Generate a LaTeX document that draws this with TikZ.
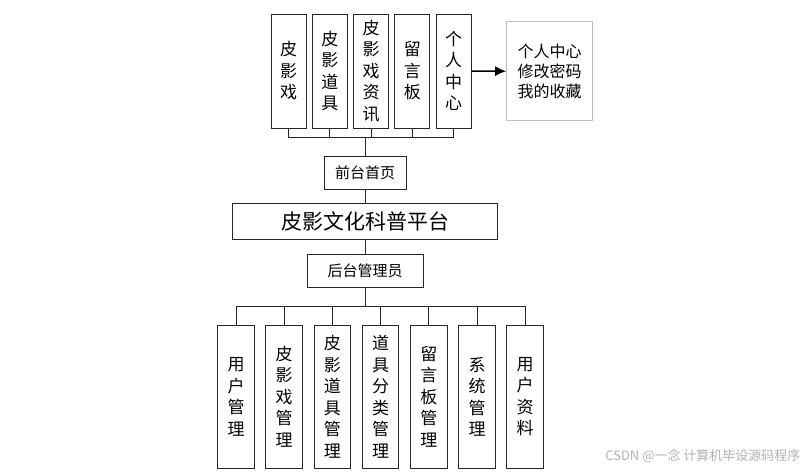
\documentclass[tikz,border=0pt]{standalone}
\usepackage{fontspec}
\newfontfamily\cjk{Noto Sans CJK SC}
\usepackage{xcolor}
\usepackage{tikz}
\usetikzlibrary{positioning, arrows.meta}
\tikzstyle{colbox} = [rectangle, 
minimum width=35pt, 
minimum height=114pt, 
inner sep=0pt,
align=center, 
draw=black!85, 
line width=1pt,
font=\cjk\fontsize{17}{21.5}\selectfont]
\tikzstyle{modbox} = [colbox, 
minimum width=36.5pt, 
minimum height=143pt]
\tikzstyle{page} = [rectangle, 
minimum height=33pt, 
text centered, 
draw=black!85, 
line width=1pt,
font=\cjk\fontsize{15}{18}\selectfont]
\tikzstyle{title} = [rectangle, 
minimum width=265pt, 
minimum height=36pt, 
text centered, 
draw=black!85, 
line width=1pt,
font=\cjk\fontsize{21}{24}\selectfont]
\tikzstyle{info} = [rectangle, 
minimum width=85.6pt, 
minimum height=99pt, 
align=left, 
draw=black!25, 
line width=1pt,
font=\cjk\fontsize{16}{20}\selectfont]
\tikzstyle{link} = [line width=1pt, draw=black!85]
\tikzstyle{arrow} = [line width=1.5pt,-{Latex[length=11pt,width=10pt]}]

\begin{document}
\begin{tikzpicture}[x=1pt, y=-1pt, node distance=41.3pt]
    \useasboundingbox (0,0) rectangle (811,472);

    % front end
    \node (t1) [colbox] at (288.5,71) {皮\\影\\戏};
    \node (t2) [colbox, right of=t1] {皮\\影\\道\\具};
    \node (t3) [colbox, right of=t2] {皮\\影\\戏\\资\\讯};
    \node (t4) [colbox, right of=t3] {留\\言\\板};
    \node (t5) [colbox, right of=t4] {个\\人\\中\\心};
    \node (user) [info] at (549.5,71.2) {个人中心\\修改密码\\我的收藏};

    \node (front) [page, minimum width=81.7pt] at (365.2,172.5) {前台首页};
    \node (sys) [title] at (365.2,221.3) {皮影文化科普平台};
    \node (admin) [page, minimum width=116pt] at (365.2,270.7) {后台管理员};

    % back end
    \node (b1) [modbox] at (236,396.7) {用\\户\\管\\理};
    \node (b2) [modbox, right of=b1, node distance=48.2pt] {皮\\影\\戏\\管\\理};
    \node (b3) [modbox, right of=b2, node distance=48.2pt] {皮\\影\\道\\具\\管\\理};
    \node (b4) [modbox, right of=b3, node distance=48.2pt] {道\\具\\分\\类\\管\\理};
    \node (b5) [modbox, right of=b4, node distance=48.2pt] {留\\言\\板\\管\\理};
    \node (b6) [modbox, right of=b5, node distance=48.2pt] {系\\统\\管\\理};
    \node (b7) [modbox, right of=b6, node distance=48.2pt] {用\\户\\资\\料};

    \coordinate (tbus) at (front.north |- 0,137.7);
    \coordinate (bbus) at (admin.south |- 0,306.3);

    \draw [link] (front) -- (tbus);
    \draw [link] (t1.south) |- (tbus);
    \draw [link] (t2.south) |- (tbus);
    \draw [link] (t3.south) |- (tbus);
    \draw [link] (t4.south) |- (tbus);
    \draw [link] (t5.south) |- (tbus);
    \draw [arrow] (t5.east) -- (user.west);

    \draw [link] (front) -- (sys);
    \draw [link] (sys) -- (admin);
    \draw [link] (admin) -- (bbus);
    \draw [link] (b1.north) |- (bbus);
    \draw [link] (b2.north) |- (bbus);
    \draw [link] (b3.north) |- (bbus);
    \draw [link] (b4.north) |- (bbus);
    \draw [link] (b5.north) |- (bbus);
    \draw [link] (b6.north) |- (bbus);
    \draw [link] (b7.north) |- (bbus);

    \node (mark) [anchor=east, text=black!30, font=\cjk\fontsize{13}{15}\selectfont] at (804,456) {CSDN @一念 计算机毕设源码程序};

\end{tikzpicture}
\end{document}
